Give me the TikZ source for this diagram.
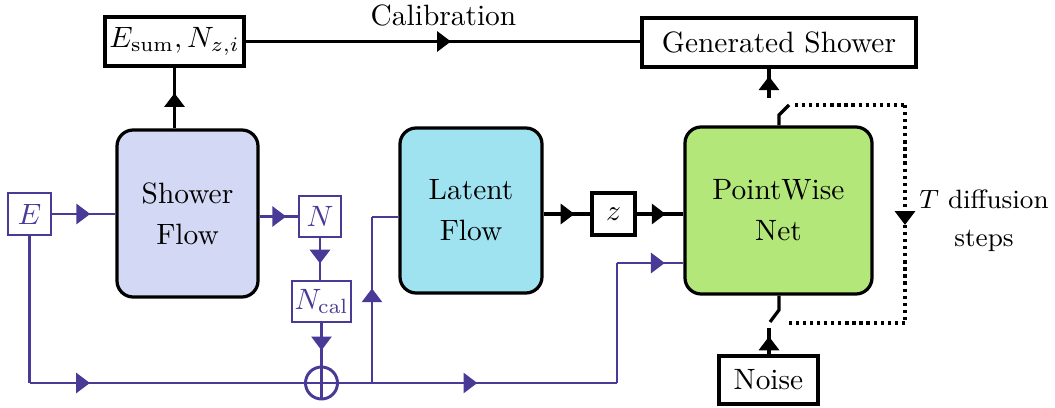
\documentclass[tikz,border=0pt]{standalone}
\usetikzlibrary{arrows.meta,decorations.markings}
\definecolor{pur}{RGB}{72,58,150}
\definecolor{sfill}{RGB}{211,216,244}
\definecolor{lfill}{RGB}{160,227,240}
\definecolor{pfill}{RGB}{179,231,122}
\tikzset{
  blk/.style={draw=black,line width=1.1pt,rounded corners=5.5pt,align=center,inner sep=0pt},
  bx/.style={draw=black,line width=1.1pt,inner sep=0pt,fill=white},
  pbx/.style={draw=pur,line width=1pt,inner sep=0pt,text=pur,fill=white},
  bl/.style={line width=1.1pt,black},
  pl/.style={line width=1pt,pur},
  midarrow/.style={postaction={decorate},decoration={markings,mark=at position #1 with {\arrow{Triangle[length=4.7pt,width=6.8pt]}}}},
  dots/.style={line width=1.1pt,dash pattern=on 1.1pt off 1.3pt}
}
\begin{document}
\begin{tikzpicture}[x=0.34pt,y=-0.34pt]
\useasboundingbox (0,0) rectangle (1055,408);
% main blocks
\node[blk,fill=sfill,minimum width={141*0.34pt},minimum height={167*0.34pt}] (sf) at (187.5,213.5) {Shower\\[2pt]Flow};
\node[blk,fill=lfill,minimum width={142*0.34pt},minimum height={165*0.34pt}] (lf) at (471,210.5) {Latent\\[2pt]Flow};
\node[blk,fill=pfill,minimum width={187*0.34pt},minimum height={167*0.34pt}] (pw) at (778.5,210.5) {PointWise\\[2pt]Net};
% small boxes
\node[bx,minimum width={139*0.34pt},minimum height={49*0.34pt}] (es) at (174.5,41.5) {$E_{\mathrm{sum}}, N_{z,i}$};
\node[bx,minimum width={274*0.34pt},minimum height={49*0.34pt}] (gs) at (779,42.5) {Generated Shower};
\node[bx,minimum width={43*0.34pt},minimum height={42*0.34pt}] (z) at (613.5,214) {$z$};
\node[bx,minimum width={99*0.34pt},minimum height={48*0.34pt}] (noise) at (768.5,380) {Noise};
\node[pbx,minimum width={43*0.34pt},minimum height={42*0.34pt}] (e) at (29.5,214) {$E$};
\node[pbx,minimum width={42*0.34pt},minimum height={41*0.34pt}] (n) at (320,216.5) {$N$};
\node[pbx,minimum width={59*0.34pt},minimum height={41*0.34pt}] (ncal) at (321.5,301.5) {$N_{\mathrm{cal}}$};
\node[draw=pur,line width=1pt,circle,minimum size={32*0.34pt},inner sep=0pt] (circ) at (321.5,383) {};
\draw[pl] (circ.north) -- (circ.south) (circ.west) -- (circ.east);
% labels
\node (cal) at (443.5,15) {Calibration};
\node[align=center,font=\small] (tds) at (984,221) {$T$ diffusion\\[2pt]steps};
% coordinates
\coordinate (ec) at (e.south |- circ);
\coordinate (br) at (372,383);
\coordinate (brt) at (372,217);
\coordinate (rc) at (617,383);
\coordinate (rct) at (617,263);
\coordinate (gsin) at (769,98);
\coordinate (st1) at (779,115);
\coordinate (st2) at (789,105);
\coordinate (d1) at (795,105);
\coordinate (d2) at (905,105);
\coordinate (d3) at (905,323);
\coordinate (d4) at (786,323);
\coordinate (sb1) at (779,310);
\coordinate (sb2) at (770,322);
\coordinate (nz) at (769,328);
% purple connectors
\draw[pl,midarrow=0.6] (e.east) -- (sf.west |- e.east);
\draw[pl,midarrow=0.7] (sf.east |- n.west) -- (n.west);
\draw[pl,midarrow=0.61] (n.south) -- (n.south |- ncal.north);
\draw[pl,midarrow=0.64] (ncal.south) -- (circ.north);
\draw[pl] (e.south) -- (ec);
\draw[pl,midarrow=0.22] (ec) -- (circ.west);
\draw[pl] (circ.east) -- (br);
\draw[pl,midarrow=0.57] (br) -- (brt);
\draw[pl] (brt) -- (lf.west |- brt);
\draw[pl,midarrow=0.43] (br) -- (rc);
\draw[pl] (rc) -- (rct);
\draw[pl,midarrow=0.72] (rct) -- (pw.west |- rct);
% black connectors
\draw[bl,midarrow=0.58] (sf.north -| es.south) -- (es.south);
\draw[bl,midarrow=0.52] (es.east) -- (gs.west |- es.east);
\draw[bl,midarrow=0.66] (lf.east |- z.west) -- (z.west);
\draw[bl,midarrow=0.62] (z.east) -- (pw.west |- z.east);
\draw[bl,midarrow=0.74] (gsin) -- (gsin |- gs.south);
\draw[bl] (pw.north -| st1) -- (st1) -- (st2);
\draw[bl] (pw.south -| sb1) -- (sb1) -- (sb2);
\draw[bl,midarrow=0.68] (noise.north -| nz) -- (nz);
\draw[dots] (d1) -- (d2);
\draw[dots,midarrow=0.55] (d2) -- (d3);
\draw[dots] (d3) -- (d4);
\end{tikzpicture}
\end{document}
